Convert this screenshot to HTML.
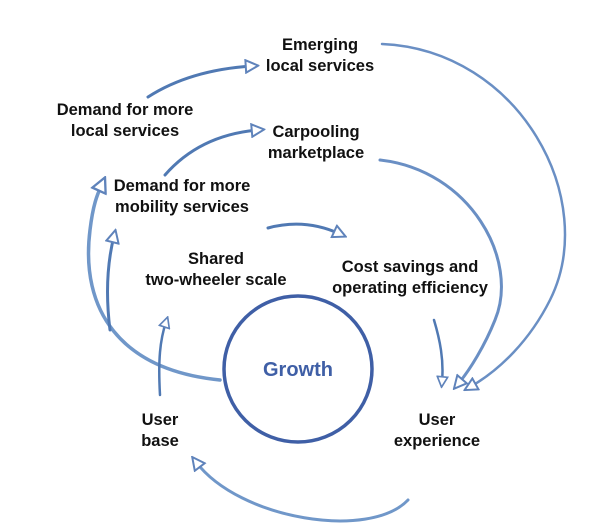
<!DOCTYPE html>
<html><head><meta charset="utf-8"><style>
html,body{margin:0;padding:0;background:#fff;}
svg{display:block}
text{font-family:"Liberation Sans",sans-serif;font-weight:bold;font-size:16.5px;fill:#111;text-anchor:middle}
</style></head><body>
<svg width="613" height="524" viewBox="0 0 613 524" xmlns="http://www.w3.org/2000/svg">
<defs>
<marker id="h" viewBox="0 0 12 12" refX="6" refY="6" markerWidth="5" markerHeight="5" orient="auto" markerUnits="strokeWidth">
<path d="M1,1 L11,6 L1,11 Z" fill="#fff" stroke="#5f83bb" stroke-width="1.6"/>
</marker>
<marker id="h2" viewBox="0 0 12 12" refX="6" refY="6" markerWidth="6" markerHeight="6" orient="auto" markerUnits="strokeWidth">
<path d="M1,1 L11,6 L1,11 Z" fill="#fff" stroke="#5f83bb" stroke-width="1.6"/>
</marker>
</defs>
<g fill="none" stroke="#5079b3" stroke-linecap="round">
<path d="M148,97 Q190,70 252,66" stroke-width="3" marker-end="url(#h)"/>
<path d="M382,44 C520,50 600,200 550,300 C530,340 500,370 470,387" stroke-width="2.5" marker-end="url(#h2)" stroke="#6a8fc4"/>
<path d="M380,160 C470,170 520,260 495,320 C485,345 470,370 458,384" stroke-width="3" marker-end="url(#h)" stroke="#6a8fc4"/>
<path d="M220,380 C120,370 80,310 90,230 C93,205 97,195 102,184" stroke-width="3.5" marker-end="url(#h)" stroke="#7097c9"/>
<path d="M110,330 C105,290 108,260 114,236" stroke-width="3" marker-end="url(#h)"/>
<path d="M165,175 Q200,135 258,130" stroke-width="3" marker-end="url(#h)"/>
<path d="M268,228 Q305,218 340,234" stroke-width="3" marker-end="url(#h)"/>
<path d="M160,395 C158,360 160,340 166,322" stroke-width="2.5" marker-end="url(#h)"/>
<path d="M434,320 C440,340 444,360 442,382" stroke-width="2.5" marker-end="url(#h)"/>
<path d="M408,500 C370,540 240,520 196,462" stroke-width="3" marker-end="url(#h)" stroke="#7097c9"/>
</g>
<ellipse cx="298" cy="369" rx="74" ry="73" fill="none" stroke="#3f5fa6" stroke-width="3.5"/>
<text x="298" y="376" style="font-size:20px;fill:#3f5fa6">Growth</text>
<text x="320" y="50">Emerging</text><text x="320" y="71">local services</text>
<text x="125" y="115">Demand for more</text><text x="125" y="136">local services</text>
<text x="316" y="137">Carpooling</text><text x="316" y="158">marketplace</text>
<text x="182" y="191">Demand for more</text><text x="182" y="212">mobility services</text>
<text x="216" y="264">Shared</text><text x="216" y="285">two-wheeler scale</text>
<text x="410" y="272">Cost savings and</text><text x="410" y="293">operating efficiency</text>
<text x="160" y="425">User</text><text x="160" y="446">base</text>
<text x="437" y="425">User</text><text x="437" y="446">experience</text>
</svg>
</body></html>
